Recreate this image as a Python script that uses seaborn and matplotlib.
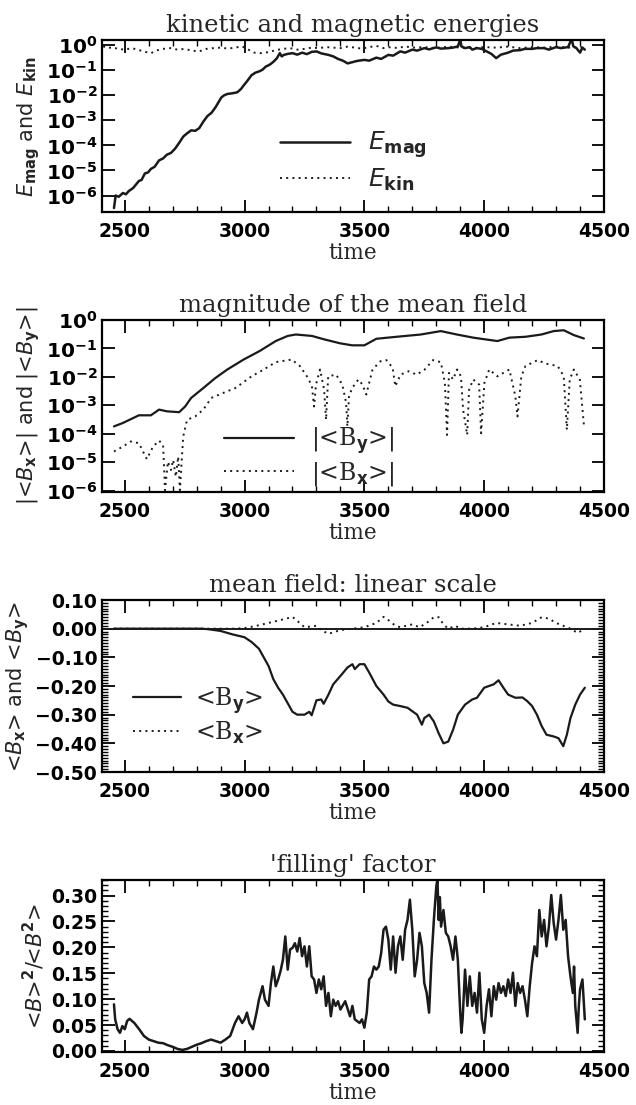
import numpy as np
import pandas as pd
import matplotlib
matplotlib.use("Agg")
import matplotlib.pyplot as plt
import matplotlib.ticker as mticker
import seaborn as sns

# ---------------- data ----------------
# Panel 1: kinetic and magnetic energies (log10 values)
emag_t = [2455, 2462, 2475, 2492, 2505, 2517, 2535, 2559, 2570, 2584, 2597, 2609, 2625, 2643,
          2660, 2676, 2693, 2710, 2727, 2744, 2760, 2777, 2794, 2811, 2828, 2845, 2862, 2878,
          2890, 2903, 2915, 2928, 2950, 2970, 2985, 2996, 3012, 3029, 3045, 3063, 3075, 3088,
          3105, 3121, 3135, 3147, 3155, 3164, 3180, 3200, 3220, 3240, 3260, 3280, 3300, 3320,
          3350, 3370, 3390, 3410, 3430, 3450, 3470, 3500, 3520, 3550, 3570, 3600, 3620, 3650,
          3670, 3700, 3720, 3750, 3770, 3800, 3820, 3850, 3870, 3890, 3900, 3905, 3920, 3940,
          3950, 3970, 3990, 4010, 4030, 4050, 4070, 4100, 4120, 4150, 4170, 4200, 4220, 4250,
          4270, 4300, 4320, 4350, 4365, 4372, 4385, 4400, 4410, 4420]
emag_log = [-6.5, -6.0, -6.05, -5.9, -5.95, -5.82, -5.7, -5.42, -5.38, -5.12, -5.08, -4.94, -4.85, -4.6,
            -4.52, -4.37, -4.3, -4.13, -3.9, -3.65, -3.52, -3.4, -3.42, -3.31, -3.05, -2.83, -2.7, -2.49,
            -2.3, -2.09, -2.0, -1.95, -1.92, -1.88, -1.75, -1.61, -1.42, -1.2, -1.1, -1.04, -0.98, -0.86,
            -0.78, -0.66, -0.52, -0.32, -0.45, -0.39, -0.35, -0.32, -0.38, -0.30, -0.36, -0.27, -0.25, -0.33,
            -0.39, -0.45, -0.55, -0.62, -0.73, -0.68, -0.63, -0.59, -0.62, -0.50, -0.55, -0.39, -0.42, -0.25,
            -0.30, -0.18, -0.22, -0.12, -0.17, -0.09, -0.14, -0.12, -0.10, -0.05, 0.22, -0.05, -0.12, -0.08,
            -0.18, -0.12, -0.15, -0.25, -0.35, -0.52, -0.38, -0.30, -0.22, -0.20, -0.15, -0.15, -0.12, -0.12,
            -0.18, -0.08, -0.12, -0.08, 0.25, -0.05, -0.12, -0.30, -0.10, -0.18]
ekin_t = [2410, 2430, 2450, 2470, 2500, 2530, 2560, 2590, 2610, 2630, 2660, 2690, 2720, 2750, 2780,
          2810, 2840, 2870, 2900, 2930, 2960, 2990, 3010, 3040, 3070, 3100, 3130, 3160, 3190, 3220,
          3250, 3280, 3310, 3340, 3370, 3400, 3430, 3460, 3490, 3520, 3550, 3580, 3610, 3640, 3670,
          3700, 3750, 3800, 3850, 3900, 3950, 4000, 4050, 4100, 4150, 4200, 4250, 4300, 4350, 4400, 4420]
ekin_log = [-0.05, -0.12, -0.08, -0.15, -0.18, -0.12, -0.2, -0.28, -0.32, -0.22, -0.15, -0.12, -0.18, -0.15, -0.22,
            -0.25, -0.15, -0.12, -0.1, -0.14, -0.1, -0.05, -0.15, -0.30, -0.32, -0.28, -0.2, -0.15, -0.12, -0.18,
            -0.15, -0.1, -0.12, -0.08, -0.1, -0.12, -0.06, -0.1, -0.14, -0.08, -0.03, -0.12, -0.08, -0.12, -0.05,
            -0.1, -0.08, -0.12, -0.06, -0.1, -0.12, -0.08, -0.1, -0.06, -0.12, -0.08, -0.1, -0.06, -0.1, -0.08, -0.1]

# Panel 2: magnitude of the mean field (log10 values)
by_abs_t = [2455, 2492, 2559, 2609, 2643, 2676, 2727, 2752, 2777, 2828, 2878, 2928, 2996, 3063,
            3130, 3180, 3214, 3281, 3332, 3399, 3449, 3500, 3550, 3634, 3735, 3819, 3886, 3954,
            4004, 4055, 4105, 4172, 4239, 4290, 4332, 4374, 4416]
by_abs_log = [-3.74, -3.62, -3.35, -3.35, -3.15, -3.21, -3.24, -3.04, -2.74, -2.39, -2.04, -1.74, -1.39, -1.09,
              -0.74, -0.56, -0.51, -0.56, -0.68, -0.82, -0.89, -0.89, -0.66, -0.59, -0.51, -0.39, -0.51, -0.62,
              -0.68, -0.74, -0.62, -0.59, -0.51, -0.39, -0.36, -0.53, -0.65]
bx_abs_t = [2455, 2492, 2525, 2559, 2576, 2592, 2618, 2643, 2660, 2668, 2680, 2693, 2702, 2713, 2723,
            2730, 2744, 2760, 2794, 2828, 2861, 2912, 2962, 3029, 3080, 3130, 3197, 3231, 3265, 3281,
            3290, 3298, 3315, 3332, 3340, 3349, 3382, 3408, 3424, 3429, 3436, 3449, 3475, 3492, 3508,
            3534, 3567, 3592, 3618, 3629, 3651, 3685, 3718, 3752, 3786, 3819, 3836, 3845, 3853, 3870,
            3887, 3903, 3912, 3929, 3937, 3954, 3979, 3987, 4001, 4021, 4055, 4105, 4130, 4139, 4155,
            4172, 4223, 4256, 4307, 4332, 4345, 4357, 4374, 4399, 4416]
bx_abs_log = [-4.62, -4.45, -4.27, -4.33, -4.62, -4.89, -4.45, -4.24, -4.39, -5.98, -4.98, -5.27, -4.92, -5.51, -4.8,
              -5.98, -4.09, -3.51, -3.39, -3.15, -2.74, -2.56, -2.39, -1.98, -1.74, -1.48, -1.39, -1.62, -2.04, -2.33,
              -3.04, -2.27, -1.74, -2.45, -3.51, -1.98, -1.92, -2.27, -2.92, -3.74, -2.68, -2.39, -2.09, -2.27, -2.62,
              -1.74, -1.45, -1.41, -1.68, -2.33, -1.92, -1.8, -1.92, -1.74, -1.41, -1.48, -2.21, -4.04, -1.86, -2.09,
              -1.74, -1.98, -3.15, -4.04, -2.45, -2.09, -2.27, -3.98, -2.21, -1.74, -1.98, -1.74, -2.68, -3.39, -1.98,
              -1.62, -1.41, -1.53, -1.62, -1.98, -3.86, -2.09, -1.74, -2.09, -3.68]

# Panel 3: mean field, linear scale
by_t = [2455, 2600, 2750, 2820, 2850, 2900, 2950, 3000, 3030, 3060, 3080, 3100, 3120, 3140, 3160,
        3180, 3200, 3220, 3250, 3270, 3280, 3300, 3320, 3330, 3350, 3370, 3400, 3430, 3450, 3460,
        3480, 3500, 3520, 3550, 3580, 3600, 3620, 3650, 3680, 3700, 3720, 3740, 3750, 3770, 3790,
        3810, 3830, 3850, 3870, 3890, 3920, 3950, 3970, 4000, 4020, 4040, 4060, 4080, 4100, 4130,
        4160, 4180, 4200, 4220, 4240, 4260, 4290, 4310, 4330, 4345, 4360, 4380, 4400, 4420]
by_val = [0.0, 0.0, 0.0, 0.0, -0.002, -0.008, -0.02, -0.03, -0.047, -0.07, -0.10, -0.13, -0.176, -0.206, -0.23,
          -0.26, -0.29, -0.30, -0.30, -0.29, -0.302, -0.25, -0.247, -0.262, -0.23, -0.194, -0.165, -0.135, -0.124, -0.141,
          -0.124, -0.124, -0.153, -0.20, -0.23, -0.254, -0.265, -0.27, -0.276, -0.288, -0.30, -0.335, -0.312, -0.30, -0.324,
          -0.365, -0.40, -0.394, -0.353, -0.30, -0.265, -0.247, -0.241, -0.206, -0.20, -0.194, -0.18, -0.206, -0.23, -0.241,
          -0.24, -0.253, -0.27, -0.30, -0.34, -0.37, -0.376, -0.382, -0.41, -0.37, -0.312, -0.265, -0.23, -0.206]
bx_t = [2455, 2950, 3000, 3050, 3100, 3150, 3200, 3230, 3250, 3300, 3320, 3350, 3400, 3450, 3500,
        3550, 3580, 3600, 3630, 3650, 3700, 3730, 3760, 3790, 3810, 3830, 3850, 3880, 3900, 3950,
        4000, 4050, 4100, 4150, 4200, 4240, 4270, 4300, 4330, 4360, 4390, 4410]
bx_val = [0.0, 0.0, 0.002, 0.01, 0.02, 0.03, 0.041, 0.02, 0.005, 0.01, -0.005, -0.018, -0.005, 0.0, 0.005,
          0.02, 0.041, 0.03, 0.01, 0.005, 0.015, 0.005, 0.02, 0.04, 0.04, 0.015, 0.0, 0.01, 0.0, 0.0,
          0.005, 0.02, 0.015, 0.01, 0.02, 0.04, 0.035, 0.02, 0.01, 0.0, -0.015, -0.005]

# Panel 4: 'filling' factor
fill_t = [2455, 2460, 2470, 2480, 2490, 2500, 2510, 2520, 2540, 2560, 2580, 2600, 2620, 2640, 2660,
          2680, 2700, 2720, 2740, 2760, 2780, 2800, 2820, 2840, 2860, 2880, 2900, 2920, 2940, 2960,
          2975, 2990, 3000, 3010, 3020, 3035, 3050, 3060, 3075, 3085, 3100, 3110, 3120, 3130, 3140,
          3150, 3160, 3170, 3180, 3190, 3200, 3210, 3220, 3230, 3240, 3250, 3260, 3270, 3280, 3290,
          3300, 3310, 3320, 3330, 3340, 3350, 3360, 3370, 3380, 3390, 3400, 3420, 3440, 3450, 3460,
          3480, 3490, 3500, 3510, 3520, 3530, 3540, 3550, 3560, 3570, 3580, 3590, 3600, 3610, 3620,
          3630, 3640, 3650, 3660, 3670, 3680, 3690, 3700, 3710, 3720, 3730, 3740, 3750, 3760, 3770,
          3780, 3790, 3800, 3805, 3810, 3815, 3820, 3830, 3840, 3850, 3860, 3870, 3880, 3890, 3900,
          3905, 3910, 3920, 3930, 3940, 3950, 3960, 3970, 3980, 3990, 4000, 4010, 4020, 4030, 4040,
          4050, 4060, 4070, 4080, 4090, 4100, 4110, 4120, 4130, 4140, 4150, 4160, 4170, 4180, 4190,
          4200, 4210, 4220, 4230, 4240, 4250, 4260, 4270, 4280, 4290, 4300, 4310, 4320, 4330, 4340,
          4350, 4360, 4370, 4375, 4380, 4390, 4395, 4400, 4410, 4420]
fill_val = [0.090, 0.061, 0.042, 0.035, 0.048, 0.042, 0.058, 0.062, 0.054, 0.042, 0.029, 0.022, 0.019, 0.016, 0.015,
            0.011, 0.008, 0.004, 0.002, 0.004, 0.008, 0.012, 0.015, 0.019, 0.022, 0.019, 0.016, 0.022, 0.029, 0.054,
            0.067, 0.054, 0.061, 0.074, 0.054, 0.042, 0.074, 0.099, 0.125, 0.099, 0.087, 0.131, 0.163, 0.125, 0.138,
            0.154, 0.176, 0.221, 0.157, 0.196, 0.199, 0.208, 0.192, 0.218, 0.183, 0.202, 0.163, 0.202, 0.144, 0.138,
            0.112, 0.138, 0.119, 0.144, 0.087, 0.112, 0.067, 0.099, 0.087, 0.096, 0.080, 0.096, 0.067, 0.087, 0.061,
            0.054, 0.061, 0.045, 0.074, 0.138, 0.144, 0.163, 0.157, 0.163, 0.189, 0.234, 0.240, 0.215, 0.157, 0.221,
            0.151, 0.202, 0.221, 0.176, 0.234, 0.253, 0.292, 0.234, 0.144, 0.176, 0.228, 0.202, 0.131, 0.112, 0.074,
            0.176, 0.253, 0.317, 0.329, 0.253, 0.297, 0.240, 0.272, 0.228, 0.221, 0.202, 0.176, 0.221, 0.176, 0.074,
            0.035, 0.061, 0.157, 0.087, 0.144, 0.087, 0.112, 0.074, 0.151, 0.061, 0.035, 0.087, 0.119, 0.067, 0.125,
            0.099, 0.131, 0.112, 0.125, 0.106, 0.138, 0.112, 0.151, 0.087, 0.131, 0.112, 0.125, 0.099, 0.067, 0.125,
            0.170, 0.202, 0.183, 0.272, 0.221, 0.253, 0.202, 0.240, 0.301, 0.247, 0.215, 0.253, 0.301, 0.234, 0.253,
            0.183, 0.144, 0.112, 0.163, 0.087, 0.035, 0.087, 0.119, 0.138, 0.061]

# ---------------- style ----------------
sns.set_theme(style="ticks")
plt.rcParams.update({
    "font.family": ["DejaVu Sans"],
    "mathtext.fontset": "dejavusans",
    "mathtext.default": "bf",
    "axes.linewidth": 1.6,
    "axes.edgecolor": "black",
    "xtick.direction": "in",
    "ytick.direction": "in",
    "xtick.top": True,
    "ytick.right": True,
    "xtick.major.size": 9,
    "ytick.major.size": 9,
    "xtick.minor.size": 4,
    "ytick.minor.size": 4,
    "xtick.major.width": 1.3,
    "ytick.major.width": 1.3,
    "xtick.minor.width": 1.0,
    "ytick.minor.width": 1.0,
    "xtick.color": "black",
    "ytick.color": "black",
    "xtick.labelsize": 13.5,
    "ytick.labelsize": 13.5,
})

W, H = 636, 1105
fig = plt.figure(figsize=(W / 100, H / 100), dpi=100)
left, right = 102 / W, 604 / W
tops = [40, 320, 600, 880]
ph = 172
axes = []
for t in tops:
    ax = fig.add_axes([left, 1 - (t + ph) / H, right - left, ph / H])
    axes.append(ax)

title_kw = dict(fontsize=17.5, family="DejaVu Serif", pad=6)
DOT = (1, 2.2)
LW = 1.6
LEG_FONT = {"family": "DejaVu Serif", "size": 17}


def style_x(ax):
    ax.set_xlim(2405, 4500)
    ax.xaxis.set_major_locator(mticker.MultipleLocator(500))
    ax.xaxis.set_minor_locator(mticker.MultipleLocator(100))
    ax.set_xlabel("time", fontsize=15.5, family="DejaVu Serif", labelpad=1)
    ax.tick_params(axis="x", which="major", pad=7)


def log_fmt(v, pos):
    e = int(round(np.log10(v)))
    return r"$\mathbf{10^{%d}}$" % e


# Panel 1
ax = axes[0]
df1 = pd.DataFrame({"t": emag_t, "v": 10.0 ** np.array(emag_log)})
df2 = pd.DataFrame({"t": ekin_t, "v": 10.0 ** np.array(ekin_log)})
sns.lineplot(data=df1, x="t", y="v", ax=ax, color="k", lw=1.8, label=r"$\mathit{E}_{\mathbf{mag}}$",
             estimator=None, sort=False)
sns.lineplot(data=df2, x="t", y="v", ax=ax, color="k", lw=1.4, label=r"$\mathit{E}_{\mathbf{kin}}$",
             estimator=None, sort=False)
ax.lines[1].set_dashes(DOT)
ax.set_yscale("log")
ax.set_ylim(2.2e-7, 1.6)
ax.yaxis.set_major_locator(mticker.FixedLocator([1e-6, 1e-5, 1e-4, 1e-3, 1e-2, 1e-1, 1e0]))
ax.yaxis.set_major_formatter(mticker.FuncFormatter(log_fmt))
ax.tick_params(axis="y", labelsize=14.5)
ax.set_ylabel(r"$\mathit{E}_{\mathbf{mag}}$ and $\mathit{E}_{\mathbf{kin}}$", fontsize=15, labelpad=3)
ax.set_title("kinetic and magnetic energies", **title_kw)
ax.legend(loc="lower left", bbox_to_anchor=(0.31, -0.02), frameon=False, fontsize=18,
          handlelength=2.8, handletextpad=0.7, labelspacing=0.25)
style_x(ax)

# Panel 2
ax = axes[1]
df3 = pd.DataFrame({"t": by_abs_t, "v": 10.0 ** np.array(by_abs_log)})
df4 = pd.DataFrame({"t": bx_abs_t, "v": 10.0 ** np.array(bx_abs_log)})
sns.lineplot(data=df3, x="t", y="v", ax=ax, color="k", lw=LW, label="|<B$_{\\mathbf{y}}$>|",
             estimator=None, sort=False)
sns.lineplot(data=df4, x="t", y="v", ax=ax, color="k", lw=1.4, label="|<B$_{\\mathbf{x}}$>|",
             estimator=None, sort=False)
ax.lines[1].set_dashes(DOT)
ax.set_yscale("log")
ax.set_ylim(9e-7, 1.0)
ax.yaxis.set_major_locator(mticker.FixedLocator([1e-6, 1e-5, 1e-4, 1e-3, 1e-2, 1e-1, 1e0]))
ax.yaxis.set_major_formatter(mticker.FuncFormatter(log_fmt))
ax.tick_params(axis="y", labelsize=14.5)
ax.set_ylabel(r"|<$\mathit{B}_x$>| and |<$\mathit{B}_y$>|", fontsize=15, labelpad=3)
ax.set_title("magnitude of the mean field", **title_kw)
ax.legend(loc="lower left", bbox_to_anchor=(0.2, -0.1), frameon=False,
          handlelength=3.0, handletextpad=0.7, labelspacing=0.15, prop=LEG_FONT)
style_x(ax)

# Panel 3
ax = axes[2]
df5 = pd.DataFrame({"t": by_t, "v": by_val})
df6 = pd.DataFrame({"t": bx_t, "v": bx_val})
ax.axhline(0.0, color="k", lw=1.4)
sns.lineplot(data=df5, x="t", y="v", ax=ax, color="k", lw=LW, label="<B$_{\\mathbf{y}}$>",
             estimator=None, sort=False)
sns.lineplot(data=df6, x="t", y="v", ax=ax, color="k", lw=1.4, label="<B$_{\\mathbf{x}}$>",
             estimator=None, sort=False)
ax.lines[-1].set_dashes(DOT)
ax.set_ylim(-0.5, 0.1)
ax.yaxis.set_major_locator(mticker.MultipleLocator(0.1))
ax.yaxis.set_minor_locator(mticker.MultipleLocator(0.01))
ax.yaxis.set_major_formatter(mticker.FuncFormatter(
    lambda v, p: ("\u2212%.2f" % abs(v)) if v < -1e-9 else "%.2f" % abs(v)))
ax.set_ylabel(r"<$\mathit{B}_x$> and <$\mathit{B}_y$>", fontsize=15, labelpad=3)
ax.set_title("mean field: linear scale", **title_kw)
ax.legend(loc="lower left", bbox_to_anchor=(0.02, 0.03), frameon=False,
          handlelength=2.0, handletextpad=0.6, labelspacing=0.15, prop=LEG_FONT)
style_x(ax)

# Panel 4
ax = axes[3]
df7 = pd.DataFrame({"t": fill_t, "v": fill_val})
sns.lineplot(data=df7, x="t", y="v", ax=ax, color="k", lw=1.8, estimator=None, sort=False)
ax.set_ylim(-0.002, 0.33)
ax.yaxis.set_major_locator(mticker.MultipleLocator(0.05))
ax.yaxis.set_minor_locator(mticker.MultipleLocator(0.01))
ax.yaxis.set_major_formatter(mticker.FormatStrFormatter("%.2f"))
ax.set_ylabel(r"<$\mathit{B}$>$^2$/<$\mathit{B}^2$>", fontsize=15, labelpad=3)
ax.set_title("'filling' factor", **title_kw)
style_x(ax)

for ax in axes:
    for lab in ax.get_xticklabels() + ax.get_yticklabels():
        lab.set_fontweight("bold")

fig.savefig("out.png", dpi=100)
